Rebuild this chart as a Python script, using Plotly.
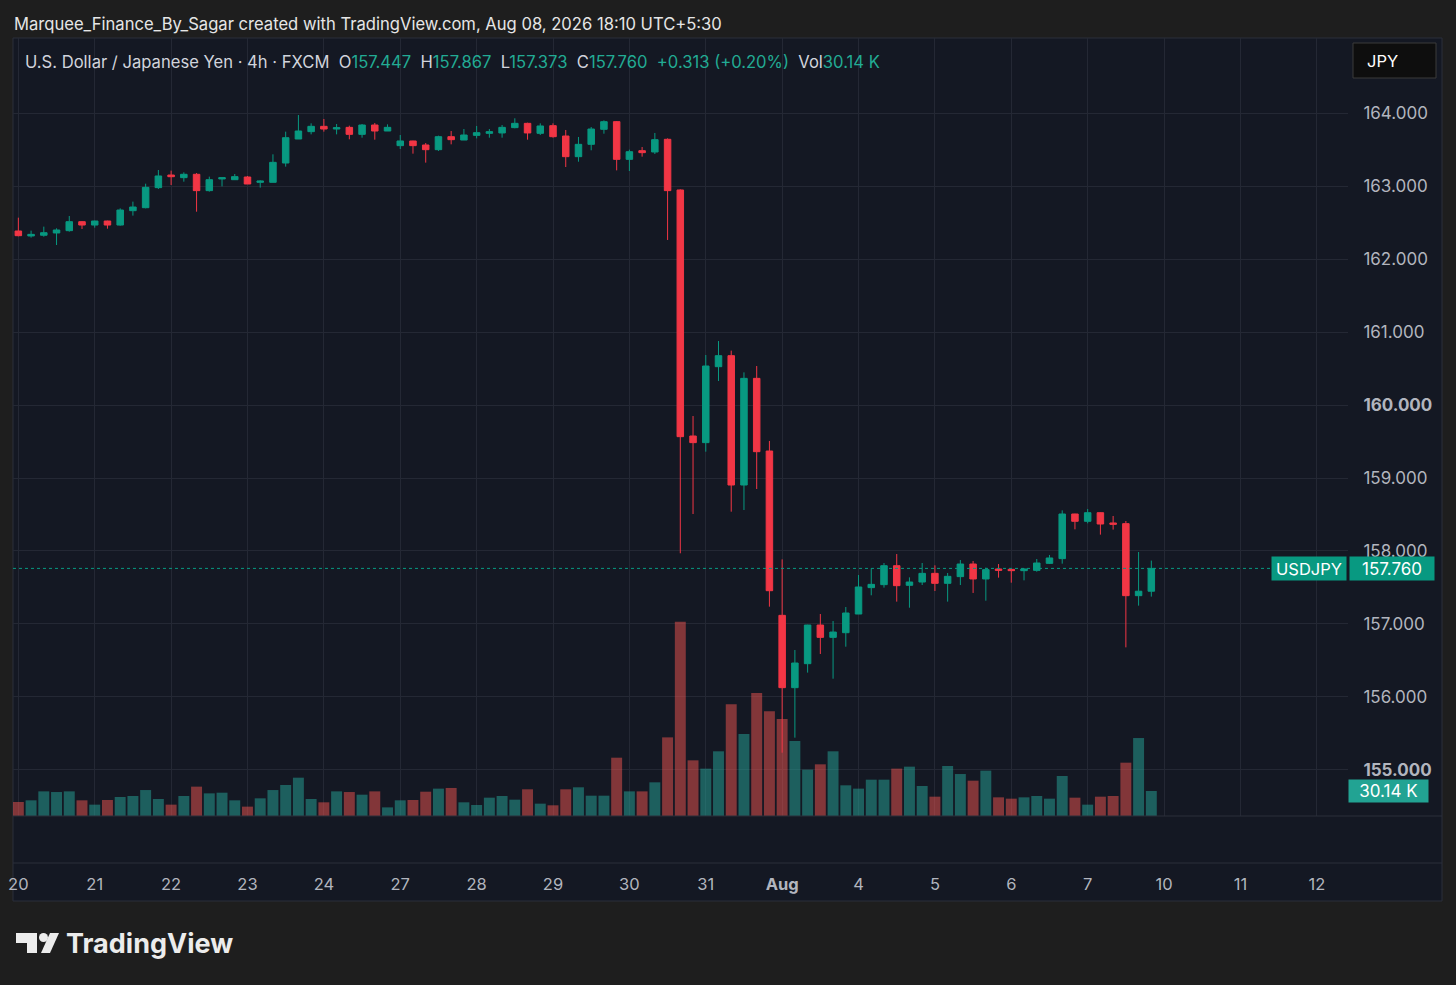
import plotly.graph_objects as go

W, H = 1456, 985

# USD/JPY 4h candles, FXCM (Jul 20 - Aug 7)
OPEN = [162.388, 162.320, 162.330, 162.361, 162.393, 162.516, 162.470, 162.525, 162.470, 162.667,
        162.708, 162.983, 163.156, 163.120, 163.166, 162.942, 163.102, 163.092, 163.129, 163.056,
        163.056, 163.321, 163.650, 163.751, 163.824, 163.787, 163.810, 163.714, 163.842, 163.760,
        163.559, 163.623, 163.568, 163.504, 163.682, 163.636, 163.700, 163.728, 163.733, 163.806,
        163.865, 163.728, 163.833, 163.691, 163.408, 163.577, 163.783, 163.888, 163.371, 163.490,
        163.472, 163.646, 162.951, 159.576, 159.485, 160.527, 160.678, 158.904, 160.367, 159.370,
        157.116, 156.124, 156.453, 156.983, 156.814, 156.878, 157.134, 157.496, 157.537, 157.797,
        157.528, 157.573, 157.692, 157.555, 157.647, 157.820, 157.615, 157.752, 157.747, 157.729,
        157.733, 157.829, 157.894, 158.506, 158.406, 158.524, 158.383, 158.374, 157.386, 157.447]
HIGH = [162.571, 162.393, 162.448, 162.425, 162.594, 162.525, 162.530, 162.530, 162.699, 162.791,
        163.037, 163.225, 163.216, 163.193, 163.184, 163.134, 163.125, 163.170, 163.143, 163.083,
        163.440, 163.751, 163.979, 163.865, 163.925, 163.856, 163.833, 163.856, 163.870, 163.851,
        163.705, 163.627, 163.595, 163.696, 163.760, 163.787, 163.829, 163.787, 163.842, 163.934,
        163.874, 163.865, 163.865, 163.774, 163.678, 163.815, 163.906, 163.897, 163.504, 163.540,
        163.733, 163.659, 162.960, 159.850, 160.687, 160.879, 160.747, 160.449, 160.536, 159.508,
        157.884, 156.641, 156.987, 157.134, 157.038, 157.230, 157.669, 157.761, 157.834, 157.957,
        157.637, 157.834, 157.802, 157.697, 157.875, 157.861, 157.770, 157.820, 157.752, 157.761,
        157.889, 157.944, 158.556, 158.510, 158.575, 158.529, 158.479, 158.410, 157.985, 157.867]
LOW = [162.315, 162.297, 162.310, 162.196, 162.379, 162.416, 162.434, 162.420, 162.461, 162.599,
       162.699, 162.964, 163.019, 163.065, 162.653, 162.928, 163.000, 163.092, 163.033, 162.983,
       163.056, 163.271, 163.650, 163.714, 163.751, 163.714, 163.646, 163.668, 163.641, 163.760,
       163.513, 163.449, 163.326, 163.486, 163.577, 163.636, 163.659, 163.668, 163.668, 163.797,
       163.641, 163.705, 163.668, 163.266, 163.339, 163.495, 163.723, 163.220, 163.211, 163.408,
       163.444, 162.265, 157.967, 158.506, 159.361, 160.331, 158.538, 158.561, 158.849, 157.235,
       155.232, 155.438, 156.330, 156.586, 156.247, 156.686, 157.134, 157.391, 157.496, 157.304,
       157.221, 157.532, 157.450, 157.304, 157.532, 157.423, 157.317, 157.633, 157.564, 157.596,
       157.715, 157.820, 157.825, 158.296, 158.378, 158.223, 158.292, 156.677, 157.249, 157.373]
CLOSE = [162.324, 162.342, 162.365, 162.402, 162.516, 162.470, 162.525, 162.470, 162.676, 162.717,
         162.987, 163.143, 163.133, 163.166, 162.942, 163.092, 163.120, 163.134, 163.033, 163.074,
         163.330, 163.668, 163.760, 163.824, 163.787, 163.806, 163.714, 163.842, 163.760, 163.810,
         163.623, 163.559, 163.504, 163.682, 163.641, 163.705, 163.737, 163.751, 163.810, 163.865,
         163.733, 163.829, 163.682, 163.408, 163.577, 163.787, 163.888, 163.371, 163.476, 163.463,
         163.641, 162.942, 159.567, 159.485, 160.536, 160.678, 158.904, 160.367, 159.361, 157.454,
         156.124, 156.462, 156.983, 156.814, 156.887, 157.148, 157.505, 157.541, 157.797, 157.523,
         157.573, 157.692, 157.555, 157.651, 157.820, 157.615, 157.743, 157.733, 157.729, 157.752,
         157.834, 157.903, 158.506, 158.406, 158.524, 158.369, 158.365, 157.386, 157.447, 157.760]
# volume in thousands
VOLUME = [16.9, 18.9, 29.7, 28.9, 29.7, 18.9, 13.7, 19.3, 22.9, 24.1,
          31.3, 20.5, 13.7, 24.1, 35.4, 27.3, 28.1, 18.9, 11.3, 21.3,
          31.3, 37.4, 46.2, 20.5, 16.5, 29.7, 28.9, 25.7, 29.7, 10.4,
          18.9, 19.3, 29.3, 33.0, 33.8, 16.5, 13.3, 22.1, 24.1, 19.7,
          32.2, 14.9, 12.9, 32.2, 34.6, 24.5, 24.5, 70.3, 29.7, 29.7,
          40.6, 94.8, 234.3, 67.1, 57.1, 78.0, 134.6, 98.9, 148.3, 126.2,
          117.0, 90.4, 55.9, 62.3, 78.0, 37.0, 33.0, 43.8, 43.8, 57.1,
          59.5, 36.2, 23.3, 60.3, 50.6, 42.6, 54.7, 22.5, 20.9, 22.5,
          24.1, 20.9, 48.2, 22.1, 13.7, 23.3, 24.1, 64.3, 94.0, 30.14]

DAY_LABELS = ["20", "21", "22", "23", "24", "27", "28", "29", "30", "31",
              "Aug", "4", "5", "6", "7", "10", "11", "12"]
CANDLES_PER_DAY = 6
PRICE_TICKS = [155, 156, 157, 158, 159, 160, 161, 162, 163, 164]
BOLD_TICKS = [155, 160]

UP = "#089981"
DOWN = "#f23645"
UP_TXT = "#22ab94"
VOL_UP = "rgba(38,166,154,0.5)"
VOL_DOWN = "rgba(239,83,80,0.5)"
PANEL = "#141823"
OUTER = "#1e1e1e"
GRID = "#242834"
BORDER = "#2b2f3b"
TEXT = "#d1d4dc"
AXIS_TEXT = "#b2b5be"
FONT = "Inter, Roboto, sans-serif"


def px_x(x):
    return x / W


def px_y(y):
    return 1 - y / H


idx = list(range(len(CLOSE)))
vol_colors = [VOL_UP if c >= o else VOL_DOWN for o, c in zip(OPEN, CLOSE)]

fig = go.Figure()

fig.add_trace(go.Bar(
    x=idx, y=VOLUME, yaxis="y", width=0.86,
    marker=dict(color=vol_colors, line_width=0),
    showlegend=False, hoverinfo="skip"
))

fig.add_trace(go.Candlestick(
    x=idx, open=OPEN, high=HIGH, low=LOW, close=CLOSE, yaxis="y2",
    increasing=dict(line=dict(color=UP, width=1), fillcolor=UP),
    decreasing=dict(line=dict(color=DOWN, width=1), fillcolor=DOWN),
    whiskerwidth=0, showlegend=False
))

price_text = []
for v in PRICE_TICKS:
    s = f"{v:.3f}"
    price_text.append(f"<b>{s}</b>" if v in BOLD_TICKS else s)

day_text = [f"<b>{d}</b>" if d == "Aug" else d for d in DAY_LABELS]
day_vals = [i * CANDLES_PER_DAY for i in range(len(DAY_LABELS))]

top_px, bottom_px = 38, 816
px_per_unit = 72.9
y_hi = 164 + (113.5 - top_px) / px_per_unit
y_lo = 164 - (bottom_px - 113.5) / px_per_unit
vol_max = (bottom_px - top_px) * VOLUME[-1] / 25.0

fig.update_layout(
    width=W, height=H,
    margin=dict(l=0, r=0, t=0, b=0, autoexpand=False),
    paper_bgcolor=OUTER,
    plot_bgcolor="rgba(0,0,0,0)",
    font=dict(family=FONT, color=TEXT, size=16),
    boxgap=0.27,
    bargap=0.14,
    xaxis=dict(
        domain=[px_x(13), px_x(1348)],
        range=[-0.42, 104.45],
        anchor="free", position=px_y(863),
        tickvals=day_vals, ticktext=day_text,
        ticks="outside", ticklen=6, tickcolor="rgba(0,0,0,0)",
        tickfont=dict(size=16.5, color=AXIS_TEXT),
        showgrid=True, gridcolor=GRID, gridwidth=1,
        zeroline=False, showline=False, automargin=False,
        rangeslider=dict(visible=False),
        fixedrange=True,
    ),
    yaxis=dict(
        domain=[px_y(bottom_px), px_y(top_px)],
        range=[0, vol_max],
        visible=False, showgrid=False, fixedrange=True, automargin=False,
    ),
    yaxis2=dict(
        overlaying="y", side="right", anchor="x",
        range=[y_lo, y_hi],
        tickvals=PRICE_TICKS, ticktext=price_text,
        ticks="outside", ticklen=11, tickcolor="rgba(0,0,0,0)",
        tickfont=dict(size=17, color=AXIS_TEXT),
        showgrid=True, gridcolor=GRID, gridwidth=1,
        zeroline=False, showline=False, fixedrange=True, automargin=False,
    ),
)

shapes = [
    dict(type="rect", xref="paper", yref="paper", layer="below",
         x0=px_x(13), x1=px_x(1442), y0=px_y(901), y1=px_y(38),
         fillcolor=PANEL, line=dict(color=BORDER, width=1)),
    dict(type="line", xref="paper", yref="paper",
         x0=px_x(13), x1=px_x(1442), y0=px_y(816), y1=px_y(816),
         line=dict(color=BORDER, width=1)),
    dict(type="line", xref="paper", yref="paper",
         x0=px_x(13), x1=px_x(1442), y0=px_y(863), y1=px_y(863),
         line=dict(color=BORDER, width=1)),
    dict(type="line", xref="paper", yref="y2",
         x0=px_x(13), x1=px_x(1270), y0=CLOSE[-1], y1=CLOSE[-1],
         line=dict(color=UP, width=1, dash="dot")),
    dict(type="rect", xref="paper", yref="paper",
         x0=px_x(1353), x1=px_x(1436), y0=px_y(78), y1=px_y(43),
         fillcolor="#0e0e0e", line=dict(color="#3a3a3a", width=1)),
]

# TradingView logo
logo_t = [(16, 933), (37, 933), (37, 953), (27, 953), (27, 943), (16, 943)]
logo_p = [(50, 933), (59, 933), (50, 953), (41, 953)]
for poly in (logo_t, logo_p):
    path = "M " + " L ".join(f"{px_x(a)},{px_y(b)}" for a, b in poly) + " Z"
    shapes.append(dict(type="path", xref="paper", yref="paper", path=path,
                       fillcolor="#ececec", line=dict(width=0)))
shapes.append(dict(type="circle", xref="paper", yref="paper",
                   x0=px_x(39), x1=px_x(48), y0=px_y(942), y1=px_y(933),
                   fillcolor="#ececec", line=dict(width=0)))

fig.update_layout(shapes=shapes)

o, h, l, c = OPEN[-1], HIGH[-1], LOW[-1], CLOSE[-1]
chg = c - CLOSE[-2]
pct = chg / CLOSE[-2] * 100
sp = "\u00a0\u00a0"


def val(s):
    return f"<span style='color:{UP_TXT}'>{s}</span>"


legend = (
    f"U.S. Dollar / Japanese Yen · 4h · FXCM{sp}"
    f"O{val(f'{o:.3f}')}{sp}H{val(f'{h:.3f}')}{sp}L{val(f'{l:.3f}')}{sp}"
    f"C{val(f'{c:.3f}')}{sp}{val(f'{chg:+.3f} ({pct:+.2f}%)')}{sp}"
    f"Vol{val(f'{VOLUME[-1]:.2f} K')}"
)

annotations = [
    dict(text="Marquee_Finance_By_Sagar created with TradingView.com, Aug 08, 2026 18:10 UTC+5:30",
         xref="paper", yref="paper", x=px_x(12), y=px_y(24),
         xanchor="left", yanchor="middle", showarrow=False,
         font=dict(size=16.6, color="#e6e6e6")),
    dict(text=legend, xref="paper", yref="paper", x=px_x(23), y=px_y(62),
         xanchor="left", yanchor="middle", showarrow=False,
         font=dict(size=16.6, color=TEXT)),
    dict(text="JPY", xref="paper", yref="paper", x=px_x(1365), y=px_y(61),
         xanchor="left", yanchor="middle", showarrow=False,
         font=dict(size=16.5, color="#ffffff")),
    dict(text="USDJPY", xref="paper", yref="y2", x=px_x(1309), y=c,
         xanchor="center", yanchor="middle", showarrow=False,
         width=70, height=19, bgcolor=UP, borderpad=2,
         font=dict(size=16.5, color="#ffffff")),
    dict(text=f"{c:.3f}", xref="paper", yref="y2", x=px_x(1392), y=c,
         xanchor="center", yanchor="middle", showarrow=False,
         width=80, height=19, bgcolor=UP, borderpad=2,
         font=dict(size=17, color="#ffffff")),
    dict(text=f"{VOLUME[-1]:.2f} K", xref="paper", yref="y", x=px_x(1388), y=VOLUME[-1],
         xanchor="center", yanchor="middle", showarrow=False,
         width=75, height=18, bgcolor="#22a393", borderpad=2,
         font=dict(size=17, color="#ffffff")),
    dict(text="<b>TradingView</b>", xref="paper", yref="paper", x=px_x(64), y=px_y(943),
         xanchor="left", yanchor="middle", showarrow=False,
         font=dict(size=27, color="#ececec")),
]
fig.update_layout(annotations=annotations)

fig.write_html("out.html", config={"displayModeBar": False},
               post_script="document.body.style.margin='0';")
